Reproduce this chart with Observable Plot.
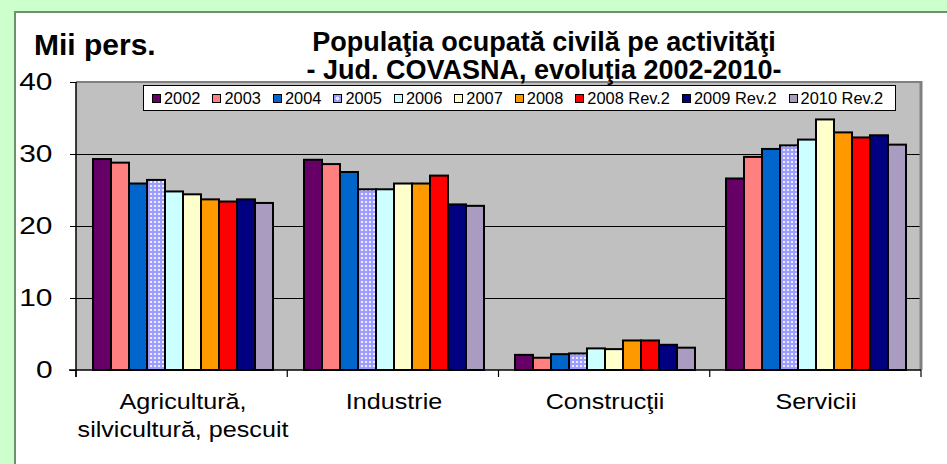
<!DOCTYPE html>
<html><head><meta charset="utf-8">
<script src="https://cdn.jsdelivr.net/npm/d3@7"></script>
<script src="https://cdn.jsdelivr.net/npm/@observablehq/plot@0.6"></script>
<style>
html,body{margin:0;padding:0;overflow:hidden;background:#fff;font-family:"Liberation Sans",Arial,sans-serif;}
#wrap{position:relative;width:947px;height:464px;overflow:hidden;background:#fff;}
.green{position:absolute;background:#ccffcc;}
#chart{position:absolute;left:0;top:0;}
.ylab{position:absolute;left:34px;top:30px;font-size:30px;line-height:30px;font-weight:bold;white-space:nowrap;}
.title{position:absolute;left:244px;width:600px;text-align:center;font-size:27px;line-height:26px;height:26px;font-weight:bold;white-space:nowrap;}
#legend{position:absolute;left:143px;top:85px;width:753px;height:26px;box-sizing:border-box;border:1px solid #000;background:#fff;display:flex;align-items:center;padding-left:8px;font-size:16.4px;white-space:nowrap;}
#legend .item{display:flex;align-items:center;margin-right:12px;}
#legend .sw{width:9px;height:9px;box-sizing:border-box;border:1px solid #000;margin-right:3px;}
</style></head><body>
<div id="wrap">
  <div class="green" style="left:0;top:0;width:947px;height:11px"></div>
  <div class="green" style="left:0;top:0;width:14px;height:464px"></div>
  <div style="position:absolute;left:14px;top:11px;width:2px;height:460px;background:#6f8f72"></div>
  <div style="position:absolute;left:14px;top:11px;width:940px;height:2px;background:#6f8f72"></div>
  <div id="chart"></div>
  <div class="ylab">Mii pers.</div>
  <div class="title" style="top:29px">Populaţia ocupată civilă pe activităţi</div>
  <div class="title" style="top:57px">- Jud. COVASNA, evoluţia 2002-2010-</div>
  <div id="legend"></div>
</div>
<script>
const categories = ["Agricultură, silvicultură, pescuit", "Industrie", "Construcţii", "Servicii"];
const categoryLabels = ["Agricultură,\nsilvicultură, pescuit", "Industrie", "Construcţii", "Servicii"];
const years = ["2002", "2003", "2004", "2005", "2006", "2007", "2008", "2008 Rev.2", "2009 Rev.2", "2010 Rev.2"];
const colors = ["#660066", "#ff8080", "#0066cc", "url(#dots2005)", "#ccffff", "#ffffcc", "#ff9900", "#ff0000", "#000080", "#a99cc0"];
const swatchColors = ["#660066", "#ff8080", "#0066cc", "radial-gradient(circle, #e8e8ff 35%, #9d9dff 45%)", "#ccffff", "#ffffcc", "#ff9900", "#ff0000", "#000080", "#a99cc0"];

const agricultura = [29.3, 28.8, 25.9, 26.4, 24.8, 24.4, 23.7, 23.4, 23.7, 23.2];
const industrie   = [29.2, 28.6, 27.5, 25.1, 25.1, 25.9, 25.9, 27.0, 23.0, 22.8];
const constructii = [2.1, 1.7, 2.2, 2.3, 3.0, 2.9, 4.1, 4.1, 3.5, 3.1];
const servicii    = [26.6, 29.6, 30.7, 31.2, 32.0, 34.8, 33.0, 32.3, 32.6, 31.3];
const yTicks = [0, 10, 20, 30, 40];
const gridValues = [10, 20, 30];

const series = [agricultura, industrie, constructii, servicii];
const data = categories.flatMap((c, i) => years.map((y, j) => ({category: c, year: y, value: series[i][j]})));

const chart = Plot.plot({
  width: 947, height: 464,
  marginLeft: 76, marginRight: 26, marginTop: 82, marginBottom: 94,
  style: {background: "transparent", fontFamily: "Liberation Sans, Arial, sans-serif", color: "#000", overflow: "visible"},
  fx: {domain: categories, padding: 0},
  x: {domain: years, paddingInner: 0, paddingOuter: 0.76, axis: null},
  y: {domain: [0, 40]},
  color: {type: "ordinal", domain: years, range: colors},
  marks: [
    Plot.ruleY(gridValues, {stroke: "#000", strokeWidth: 1}),
    Plot.barY(data, {fx: "category", x: "year", y: "value", fill: "year", stroke: "#000", strokeWidth: 2}),
    Plot.axisY({ticks: yTicks, tickSize: 7, tickPadding: 18, fontSize: 23, label: null, stroke: "#000", strokeOpacity: 1}),
    Plot.axisFx({anchor: "bottom", tickSize: 0, tickPadding: 19, fontSize: 21.5, lineHeight: 1.3, label: null,
      tickFormat: c => categoryLabels[categories.indexOf(c)]})
  ]
});
document.getElementById("chart").appendChild(chart);

const svg = d3.select(chart);
const defs = svg.insert("defs", ":first-child");
const pat = defs.append("pattern").attr("id", "dots2005").attr("patternUnits", "userSpaceOnUse").attr("width", 4).attr("height", 4);
pat.append("rect").attr("width", 4).attr("height", 4).attr("fill", "#9d9dff");
pat.append("circle").attr("cx", 2).attr("cy", 2).attr("r", 1.1).attr("fill", "#fff");

// plot-area background and borders, placed with the library's scales
const fxS = chart.scale("fx"), yS = chart.scale("y");
const band = d3.scaleBand().domain(fxS.domain).range(fxS.range).paddingInner(fxS.paddingInner || 0).paddingOuter(fxS.paddingOuter || 0);
const left = band(categories[0]), right = band(categories[categories.length - 1]) + band.bandwidth();
const yLin = d3.scaleLinear().domain(yS.domain).range(yS.range);
const y0 = yLin(0), yTop = yLin(40);
svg.insert("rect", "defs + *").attr("x", left).attr("y", yTop).attr("width", right - left).attr("height", y0 - yTop).attr("fill", "#c0c0c0");
const deco = svg.append("g");
deco.append("line").attr("x1", left).attr("x2", right).attr("y1", yTop).attr("y2", yTop).attr("stroke", "#808080").attr("stroke-width", 2);
deco.append("line").attr("x1", right).attr("x2", right).attr("y1", yTop - 1).attr("y2", y0).attr("stroke", "#808080").attr("stroke-width", 3);
deco.append("line").attr("x1", left).attr("x2", left).attr("y1", yTop).attr("y2", y0 + 7).attr("stroke", "#000").attr("stroke-width", 1.5);
deco.append("line").attr("x1", left - 7).attr("x2", right).attr("y1", y0).attr("y2", y0).attr("stroke", "#000").attr("stroke-width", 1.5);
const bounds = categories.map(c => band(c)).concat([right]);
deco.selectAll(".ct").data(bounds).join("line").attr("x1", d => d).attr("x2", d => d).attr("y1", y0).attr("y2", y0 + 7).attr("stroke", "#000").attr("stroke-width", 1.2);

// horizontally widened text, as in the reference
function stretch(sel, k) {
  sel.each(function() {
    const t = d3.select(this);
    const tr = t.attr("transform");
    if (tr) t.attr("transform", tr + ` scale(${k},1)`);
    else {
      const x = +t.attr("x") || 0, y = +t.attr("y") || 0;
      t.attr("x", null).attr("y", null).attr("transform", `translate(${x},${y}) scale(${k},1)`);
    }
  });
}
stretch(svg.selectAll('g[aria-label="y-axis tick label"] text'), 1.3);
stretch(svg.selectAll('g[aria-label="fx-axis tick label"] text'), 1.17);

// legend
const lg = d3.select("#legend");
years.forEach((y, i) => {
  const it = lg.append("div").attr("class", "item");
  it.append("div").attr("class", "sw").style("background", swatchColors[i]);
  it.append("span").text(y);
});
</script>
</body></html>
